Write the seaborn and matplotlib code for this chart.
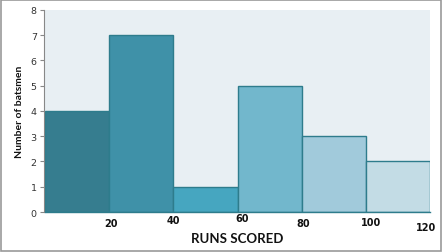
import matplotlib
matplotlib.use("Agg")
import matplotlib.pyplot as plt
import matplotlib.transforms as mtransforms
from matplotlib.patches import Rectangle
import seaborn as sns
import numpy as np

bin_edges = [0, 20, 40, 60, 80, 100, 120]
counts = [4, 7, 1, 5, 3, 2]
bar_colors = ["#367d8f", "#3f91a8", "#46a6c0", "#72b7cc", "#a1cadb", "#c3dce5"]
x_tick_values = [20, 40, 60, 80, 100, 120]
x_tick_labels = ["20", "40", "60", "80", "100", "120"]
# vertical offsets (points) of the staggered x tick labels
label_dy = [0, 2.5, 4, 0, 1, -3]
label_dx = [1.5, 0, 3, 1, 4, -3]

sns.set_theme(style="white")
plt.rcParams["font.family"] = ["DejaVu Sans"]

fig = plt.figure(figsize=(4.42, 2.53), dpi=100)
ax = fig.add_axes([0.102, 0.158, 0.871, 0.799])
ax.set_facecolor("#e8eff3")

mids = [(bin_edges[i] + bin_edges[i + 1]) / 2 for i in range(len(counts))]
sns.histplot(x=mids, weights=counts, bins=bin_edges, ax=ax,
             edgecolor="#2e7c8c", linewidth=1.0, alpha=1)
for p, c in zip(ax.patches, bar_colors):
    p.set_facecolor(c)

ax.set_xlim(0, 120)
ax.set_ylim(0, 8)
ax.set_yticks(range(0, 9))
ax.tick_params(axis="y", labelsize=6.8, colors="#333333", length=3, width=0.8,
               left=True, pad=2)
ax.tick_params(axis="y", color="#888888")
ax.set_xticks(x_tick_values)
ax.set_xticklabels(x_tick_labels, fontsize=7, fontweight="bold", color="#111111")
ax.tick_params(axis="x", length=0, pad=4.5)
for lab, dy, dx in zip(ax.get_xticklabels(), label_dy, label_dx):
    lab.set_transform(lab.get_transform() +
                      mtransforms.ScaledTranslation(dx / 72, dy / 72, fig.dpi_scale_trans))

for s in ["top", "right"]:
    ax.spines[s].set_visible(False)
ax.spines["left"].set_color("#888888")
ax.spines["left"].set_linewidth(0.8)
ax.spines["left"].set_position(("outward", 1))
ax.spines["bottom"].set_color("#2e7c8c")
ax.spines["bottom"].set_linewidth(1.0)

ax.set_ylabel("Number of batsmen", fontsize=7.5, fontweight="bold",
              family=["Lato", "DejaVu Sans"], color="#111111", labelpad=5)
ax.set_xlabel("RUNS SCORED", fontsize=9.5, fontweight="bold",
              family=["Lato", "DejaVu Sans"], color="#111111", labelpad=0)

fig.patches.append(Rectangle((0.002, 0.003), 0.995, 0.993, transform=fig.transFigure,
                             fill=False, edgecolor="#999999", linewidth=1.2))

fig.savefig("out.png", dpi=100)
